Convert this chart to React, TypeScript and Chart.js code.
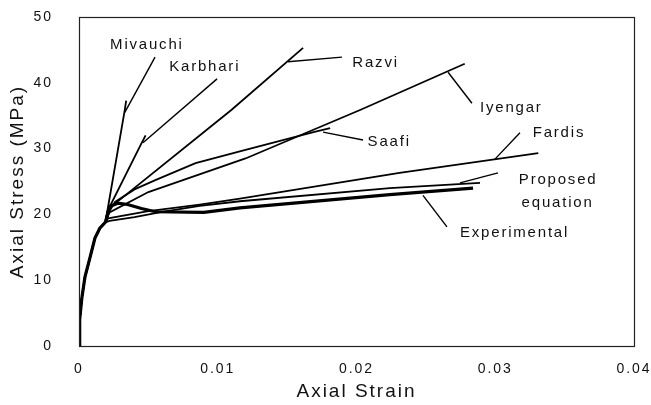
import React, { useEffect, useRef } from "react";
import { Chart, registerables } from "chart.js";

Chart.register(...registerables);

// Shared initial branch of all curves (strain, stress in MPa)
const baseStrain = [0, 0.00005, 0.0002, 0.00043, 0.0008, 0.00115, 0.0015, 0.0019];
const baseStress = [0, 4, 7.2, 10.5, 13.5, 16.4, 17.9, 18.8];

const mivauchiStrain = [0.0021, 0.0033, 0.0034];
const mivauchiStress = [21.2, 35.9, 37.3];

const karbhariStrain = [0.0021, 0.0045, 0.0048];
const karbhariStress = [20.7, 30.8, 32.0];

const razviStrain = [0.0021, 0.011, 0.01615];
const razviStress = [20.8, 35.9, 45.3];

const iyengarStrain = [0.0022, 0.005, 0.012, 0.0203, 0.0278];
const iyengarStress = [20.3, 23.4, 28.5, 35.9, 42.9];

const saafiStrain = [0.0022, 0.0026, 0.004, 0.0055, 0.0084, 0.012, 0.0169, 0.0181];
const saafiStress = [20.5, 21.9, 23.8, 25.2, 27.8, 29.8, 32.5, 33.1];

const fardisStrain = [0.0021, 0.005, 0.0087, 0.0116, 0.0231, 0.0331];
const fardisStress = [19.4, 20.5, 21.5, 22.4, 26.3, 29.3];

const proposedStrain = [0.0022, 0.004, 0.006, 0.0087, 0.0116, 0.0224, 0.0289];
const proposedStress = [19.0, 19.6, 20.4, 21.3, 22.0, 24.0, 24.8];

const experimentalStrain = [0.0022, 0.0028, 0.0035, 0.0045, 0.0055, 0.009, 0.0116, 0.0224, 0.0284];
const experimentalStress = [21.2, 21.7, 21.5, 20.9, 20.4, 20.3, 21.0, 23.0, 24.0];

// Curve labels and their leader lines (in data units)
const labelTexts = ["Mivauchi", "Karbhari", "Razvi", "Iyengar", "Saafi", "Fardis", "Proposed", "equation", "Experimental"];
const labelStrain = [0.00224, 0.0065, 0.0197, 0.0289, 0.0208, 0.0327, 0.0317, 0.0319, 0.02746];
const labelStress = [45.7, 42.4, 43.1, 36.2, 31.0, 32.4, 25.2, 21.8, 17.2];

const leaderFromStrain = [0.00548, 0.00995, 0.01895, 0.0266, 0.01759, 0.03178, 0.0302, 0.02479];
const leaderFromStress = [43.9, 40.6, 43.9, 41.6, 32.5, 32.4, 26.3, 22.9];
const leaderToStrain = [0.0033, 0.00461, 0.01506, 0.02832, 0.02047, 0.02998, 0.02746, 0.02652];
const leaderToStress = [35.5, 30.9, 43.2, 36.9, 31.3, 28.4, 24.8, 18.1];

const xTicks = [0, 0.01, 0.02, 0.03, 0.04];
const yTicks = [0, 10, 20, 30, 40, 50];

const FONT = "'Liberation Sans', Arial, Helvetica, sans-serif";

function curve(sx: number[], sy: number[]) {
  const pts = baseStrain.map((x, i) => ({ x, y: baseStress[i] }));
  sx.forEach((x, i) => pts.push({ x, y: sy[i] }));
  return pts;
}

function lineDs(label: string, data: { x: number; y: number }[], width: number) {
  return {
    label,
    data,
    borderColor: "#000",
    backgroundColor: "#000",
    borderWidth: width,
    pointRadius: 0,
    tension: 0,
    fill: false,
  };
}

const annotate = {
  id: "annotate",
  beforeDraw(chart: any) {
    chart.ctx.letterSpacing = "2px";
  },
  afterDatasetsDraw(chart: any) {
    const { ctx, chartArea, scales } = chart;
    const x = scales.x;
    const y = scales.y;
    ctx.save();
    ctx.letterSpacing = "0px";
    ctx.strokeStyle = "#222";
    ctx.lineWidth = 1.2;
    ctx.strokeRect(
      Math.round(chartArea.left) + 0.5,
      Math.round(chartArea.top) + 0.5,
      Math.round(chartArea.right - chartArea.left),
      Math.round(chartArea.bottom - chartArea.top)
    );
    ctx.letterSpacing = "1.8px";
    ctx.font = `15px ${FONT}`;
    ctx.fillStyle = "#111";
    ctx.textBaseline = "middle";
    ctx.textAlign = "left";
    labelTexts.forEach((t, i) => {
      ctx.fillText(t, x.getPixelForValue(labelStrain[i]), y.getPixelForValue(labelStress[i]));
    });
    ctx.restore();
  },
  afterDraw(chart: any) {
    chart.ctx.letterSpacing = "0px";
  },
};

export default function App() {
  const ref = useRef<HTMLCanvasElement>(null);
  useEffect(() => {
    if (!ref.current) return;
    const leaders = leaderFromStrain.map((fx, i) =>
      lineDs("leader" + i, [
        { x: fx, y: leaderFromStress[i] },
        { x: leaderToStrain[i], y: leaderToStress[i] },
      ], 1.4)
    );
    const chart = new Chart(ref.current, {
      type: "line",
      data: {
        datasets: [
          lineDs("Mivauchi", curve(mivauchiStrain, mivauchiStress), 1.8),
          lineDs("Karbhari", curve(karbhariStrain, karbhariStress), 1.8),
          lineDs("Razvi", curve(razviStrain, razviStress), 1.8),
          lineDs("Iyengar", curve(iyengarStrain, iyengarStress), 1.8),
          lineDs("Saafi", curve(saafiStrain, saafiStress), 1.8),
          lineDs("Fardis", curve(fardisStrain, fardisStress), 1.8),
          lineDs("Proposed equation", curve(proposedStrain, proposedStress), 1.8),
          lineDs("Experimental", curve(experimentalStrain, experimentalStress), 3.2),
          ...leaders,
        ] as any,
      },
      options: {
        animation: false,
        responsive: false,
        maintainAspectRatio: false,
        layout: { padding: { left: 0, right: 17, top: 17, bottom: 0 } },
        plugins: { legend: { display: false }, tooltip: { enabled: false } },
        scales: {
          x: {
            type: "linear",
            min: 0,
            max: 0.04,
            afterBuildTicks: (s: any) => {
              s.ticks = xTicks.map((v) => ({ value: v }));
            },
            afterFit: (s: any) => {
              s.height = 59;
              s.paddingLeft = 0;
              s.paddingRight = 0;
            },
            grid: { display: false, drawTicks: false },
            border: { display: false },
            ticks: {
              padding: 15,
              color: "#111",
              font: { family: FONT, size: 14 },
              callback: (v: any) => String(v),
            },
            title: {
              display: true,
              text: "Axial Strain",
              color: "#111",
              font: { family: FONT, size: 19, lineHeight: 1.37 },
              padding: { top: 0, bottom: 0 },
            },
          },
          y: {
            type: "linear",
            min: 0,
            max: 50,
            afterBuildTicks: (s: any) => {
              s.ticks = yTicks.map((v) => ({ value: v }));
            },
            afterFit: (s: any) => {
              s.width = 79;
              s.paddingTop = 0;
              s.paddingBottom = 0;
            },
            grid: { display: false, drawTicks: false },
            border: { display: false },
            ticks: {
              padding: 26,
              color: "#111",
              font: { family: FONT, size: 14 },
              callback: (v: any) => String(v),
            },
            title: {
              display: true,
              text: "Axial Stress (MPa)",
              color: "#111",
              font: { family: FONT, size: 19, lineHeight: 1.9 },
              padding: { top: 0, bottom: 0 },
            },
          },
        },
      },
      plugins: [annotate],
    });
    return () => chart.destroy();
  }, []);
  return (
    <div
      style={{
        position: "fixed",
        left: 0,
        top: 0,
        width: 651,
        height: 405,
        overflow: "hidden",
        background: "#fff",
      }}
    >
      <canvas ref={ref} width={651} height={405} style={{ display: "block" }} />
    </div>
  );
}
